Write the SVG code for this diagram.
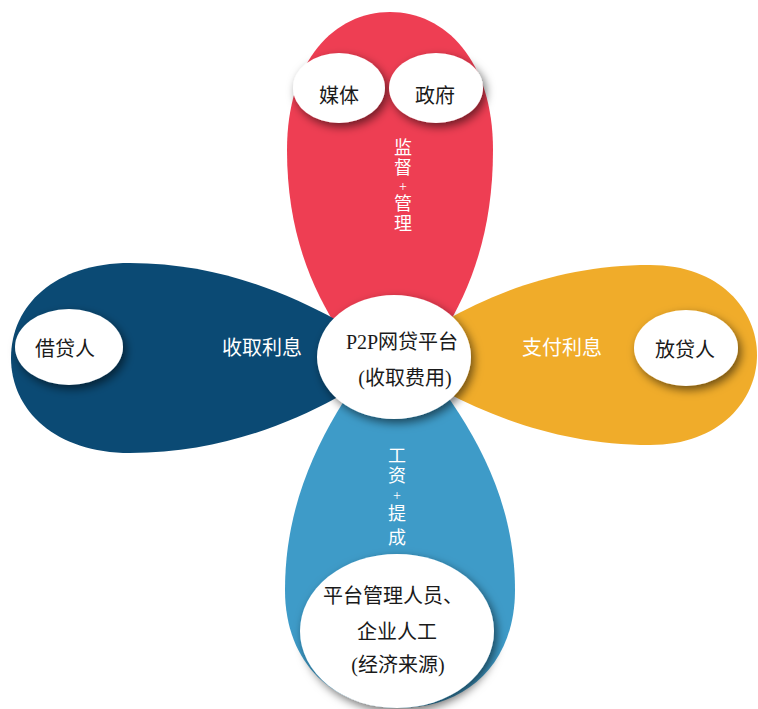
<svg xmlns="http://www.w3.org/2000/svg" width="758" height="709" viewBox="0 0 758 709">
<style>
.lbl{font-family:"Liberation Serif","Noto Sans CJK SC",serif;font-size:20px;fill:#1a1a1a;text-anchor:middle;dominant-baseline:central}
.wt{font-family:"Liberation Serif","Noto Sans CJK SC",serif;font-size:18px;fill:#ffffff;text-anchor:middle;dominant-baseline:central}
.pl{font-size:14px}
.node{fill:#ffffff;filter:url(#sh)}
</style>
<defs>
<filter id="sh" x="-30%" y="-30%" width="160%" height="160%">
<feDropShadow dx="3" dy="4" stdDeviation="5" flood-color="#000" flood-opacity="0.55"/>
</filter>
</defs>
<g id="petals">
<path id="petal-top" d="M393 400 C340 340 287 270 287 150 C287 60 335 12 390 12 C445 12 493 60 493 150 C493 270 445 340 393 400 Z" fill="#EE3E53"/>
<path id="petal-left" d="M400 358 C340 320 250 263 130 263 C55 263 11 305 11 358 C11 410 55 453 130 453 C250 453 340 400 400 358 Z" fill="#0B4A74"/>
<path id="petal-right" d="M390 358 C450 310 540 265 650 265 C720 265 757 310 757 355 C757 400 720 445 650 445 C540 445 450 400 390 358 Z" fill="#F0AC2A"/>
<path id="petal-bottom" d="M395 330 C340 400 285 480 285 590 C285 665 335 708 400 708 C465 708 515 665 515 590 C515 480 455 400 395 330 Z" fill="#3E9BC8"/>
</g>
<g id="connectors">
<text class="wt" x="403" y="148">监</text>
<text class="wt" x="403" y="168">督</text>
<text class="wt pl" x="403" y="186">+</text>
<text class="wt" x="403" y="204">管</text>
<text class="wt" x="403" y="224">理</text>
<text class="wt" x="397" y="456">工</text>
<text class="wt" x="397" y="476">资</text>
<text class="wt pl" x="397" y="495">+</text>
<text class="wt" x="397" y="514">提</text>
<text class="wt" x="397" y="538">成</text>
<text class="wt" x="262" y="348" style="font-size:20px">收取利息</text>
<text class="wt" x="562" y="348" style="font-size:20px">支付利息</text>
</g>
<g id="center">
<ellipse class="node" cx="394" cy="357" rx="77" ry="62"/>
<text class="lbl" x="402" y="342">P2P网贷平台</text>
<text class="lbl" x="405" y="378">(收取费用)</text>
</g>
<g id="media">
<ellipse class="node" cx="339" cy="88" rx="46" ry="35"/>
<text class="lbl" x="339" y="96">媒体</text>
</g>
<g id="gov">
<ellipse class="node" cx="436" cy="88" rx="47" ry="35"/>
<text class="lbl" x="435" y="96">政府</text>
</g>
<g id="borrower">
<ellipse class="node" cx="69" cy="347" rx="54" ry="38"/>
<text class="lbl" x="65" y="349">借贷人</text>
</g>
<g id="lender">
<ellipse class="node" cx="686" cy="348" rx="52" ry="38"/>
<text class="lbl" x="685" y="350">放贷人</text>
</g>
<g id="staff">
<ellipse class="node" cx="397" cy="631" rx="97" ry="77"/>
<text class="lbl" x="393" y="596">平台管理人员、</text>
<text class="lbl" x="397" y="632">企业人工</text>
<text class="lbl" x="398" y="665">(经济来源)</text>
</g>
</svg>
